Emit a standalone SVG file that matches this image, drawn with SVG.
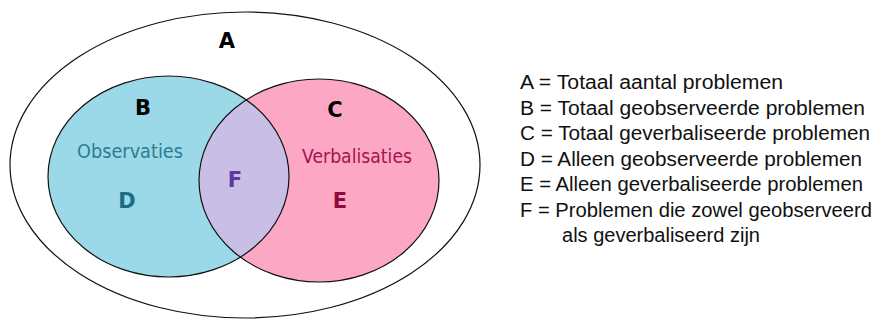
<svg xmlns="http://www.w3.org/2000/svg" width="880" height="320" viewBox="0 0 880 320">
<style>
.lbl{font-family:"DejaVu Sans","Liberation Sans",sans-serif;font-weight:bold;font-size:21px;text-anchor:middle}
.nm{font-family:"DejaVu Sans","Liberation Sans",sans-serif;font-size:19.5px}
.lg{font-family:"Liberation Sans","DejaVu Sans",sans-serif;font-size:20px;fill:#111}
.edge{stroke:#111;stroke-width:1.2}
</style>
<defs>
<clipPath id="clipB"><ellipse cx="168.5" cy="176.5" rx="120.5" ry="100.5"/></clipPath>
</defs>
<rect width="880" height="320" fill="#fff"/>
<g id="A">
<ellipse cx="245" cy="165" rx="235" ry="153" fill="#fff" class="edge"/>
<text x="227" y="48" class="lbl" fill="#000">A</text>
</g>
<g id="B">
<ellipse cx="168.5" cy="176.5" rx="120.5" ry="100.5" fill="#9cd9e8"/>
</g>
<g id="C">
<ellipse cx="319" cy="180.5" rx="120" ry="101.5" fill="#fca8c4"/>
</g>
<g id="F">
<ellipse cx="319" cy="180.5" rx="120" ry="101.5" fill="#c8bee6" clip-path="url(#clipB)"/>
</g>
<g id="outlines">
<ellipse cx="168.5" cy="176.5" rx="120.5" ry="100.5" fill="none" class="edge"/>
<ellipse cx="319" cy="180.5" rx="120" ry="101.5" fill="none" class="edge"/>
</g>
<g id="labels">
<text x="143" y="115" class="lbl" fill="#000">B</text>
<text x="335" y="117" class="lbl" fill="#000">C</text>
<text x="77" y="158" class="nm" fill="#2a7d90" textLength="106" lengthAdjust="spacingAndGlyphs">Observaties</text>
<text x="302" y="163" class="nm" fill="#a5124f" textLength="110" lengthAdjust="spacingAndGlyphs">Verbalisaties</text>
<text x="127" y="208" class="lbl" fill="#1b6d82">D</text>
<text x="340" y="208" class="lbl" fill="#8e0a3a">E</text>
<text x="235" y="187" class="lbl" fill="#5a3a9c">F</text>
</g>
<g id="legend">
<text x="520" y="89" class="lg" textLength="263" lengthAdjust="spacingAndGlyphs">A = Totaal aantal problemen</text>
<text x="520" y="114.5" class="lg" textLength="345" lengthAdjust="spacingAndGlyphs">B = Totaal geobserveerde problemen</text>
<text x="520" y="140" class="lg" textLength="350" lengthAdjust="spacingAndGlyphs">C = Totaal geverbaliseerde problemen</text>
<text x="520" y="165.5" class="lg" textLength="342" lengthAdjust="spacingAndGlyphs">D = Alleen geobserveerde problemen</text>
<text x="520" y="191" class="lg" textLength="343" lengthAdjust="spacingAndGlyphs">E = Alleen geverbaliseerde problemen</text>
<text x="520" y="216.5" class="lg" textLength="352" lengthAdjust="spacingAndGlyphs">F = Problemen die zowel geobserveerd</text>
<text x="562" y="242" class="lg" textLength="198" lengthAdjust="spacingAndGlyphs">als geverbaliseerd zijn</text>
</g>
</svg>
